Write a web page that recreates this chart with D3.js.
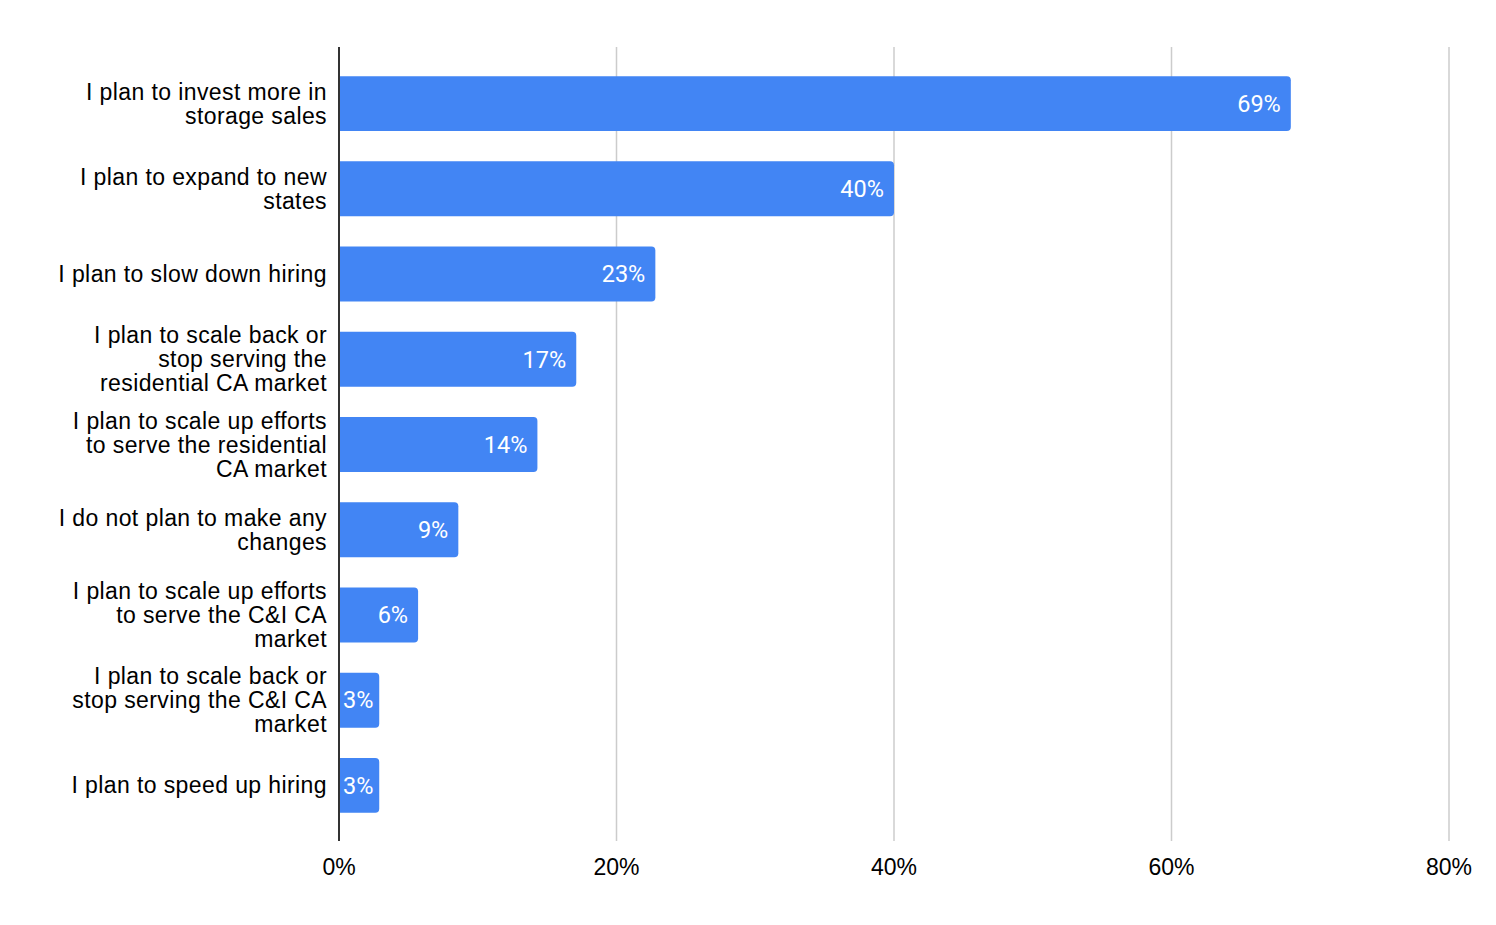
<!DOCTYPE html>
<html><head><meta charset="utf-8">
<script src="https://cdn.jsdelivr.net/npm/d3@7"></script>
<style>body{margin:0;background:#fff}</style>
</head><body>
<svg id="c" width="1496" height="925"></svg>
<script>
const categories = [
  ["I plan to invest more in","storage sales"],
  ["I plan to expand to new","states"],
  ["I plan to slow down hiring"],
  ["I plan to scale back or","stop serving the","residential CA market"],
  ["I plan to scale up efforts","to serve the residential","CA market"],
  ["I do not plan to make any","changes"],
  ["I plan to scale up efforts","to serve the C&I CA","market"],
  ["I plan to scale back or","stop serving the C&I CA","market"],
  ["I plan to speed up hiring"]
];
const values = [0.686, 0.40, 0.228, 0.171, 0.143, 0.086, 0.057, 0.029, 0.029];
const tickValues = [0, 0.2, 0.4, 0.6, 0.8];

(function() {
const svg = d3.select("#c");
const x = d3.scaleLinear().domain([0, 0.8]).range([339, 1449]);
const y = d3.scaleBand().domain(d3.range(categories.length)).range([61, 828])
  .paddingInner(0.355).paddingOuter(0.1775);
const plotTop = 47, plotBottom = 841;
const sans = "'Liberation Sans', Arial, sans-serif";

svg.append("g").selectAll("line").data(tickValues.slice(1)).join("line")
  .attr("x1", d => x(d)).attr("x2", d => x(d)).attr("y1", plotTop).attr("y2", plotBottom)
  .attr("stroke", "#cccccc").attr("stroke-width", 1.5);

svg.append("g").selectAll("text").data(tickValues).join("text")
  .attr("x", d => x(d)).attr("y", 867).attr("dy", "0.35em")
  .attr("text-anchor", "middle")
  .style("font-family", sans).style("font-size", "23px").attr("fill", "#000")
  .text(d3.format(".0%"));

const r = 4;
svg.append("g").selectAll("path").data(values).join("path")
  .attr("fill", "#4285f4")
  .attr("d", (d, i) => {
    const x0 = x(0), x1 = x(d), y0 = y(i), h = y.bandwidth();
    return `M${x0},${y0}H${x1 - r}Q${x1},${y0} ${x1},${y0 + r}V${y0 + h - r}Q${x1},${y0 + h} ${x1 - r},${y0 + h}H${x0}Z`;
  });

const vl = svg.append("g").selectAll("text").data(values).join("text")
  .attr("y", (d, i) => y(i) + y.bandwidth() / 2).attr("dy", "0.35em")
  .style("font-family", "Roboto, sans-serif").style("font-size", "23.5px").attr("fill", "#fff")
  .text(d3.format(".0%"));
vl.each(function(d) {
  const w = this.getComputedTextLength();
  let xr = x(d) - 10;
  if (xr - w < x(0) + 4) xr = x(0) + 4 + w;
  d3.select(this).attr("x", xr).attr("text-anchor", "end");
});

const cg = svg.append("g");
categories.forEach((lines, i) => {
  const cy = y(i) + y.bandwidth() / 2;
  const lh = 24;
  const t = cg.append("text").attr("text-anchor", "end")
    .style("font-family", sans).style("font-size", "23px").style("letter-spacing", "0.4px").attr("fill", "#000");
  lines.forEach((ln, k) => {
    t.append("tspan").attr("x", 327).attr("y", cy + (k - (lines.length - 1) / 2) * lh).attr("dy", "0.35em").text(ln);
  });
});

svg.append("line").attr("x1", x(0)).attr("x2", x(0)).attr("y1", plotTop).attr("y2", plotBottom)
  .attr("stroke", "#333").attr("stroke-width", 2);
})();
</script>
</body></html>
